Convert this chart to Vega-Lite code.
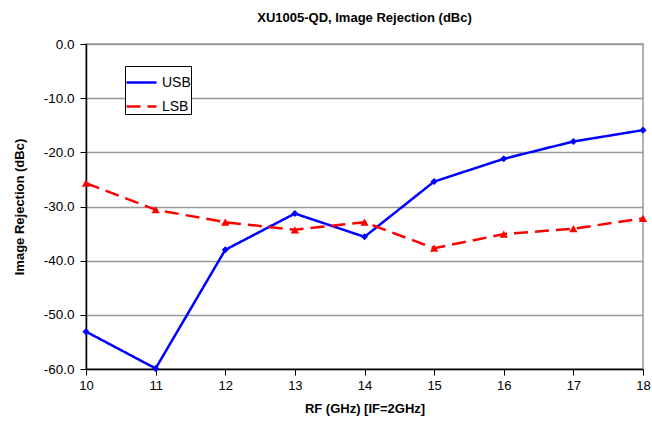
{
  "$schema": "https://vega.github.io/schema/vega-lite/v6.json",
  "autosize": {"type": "none"},
  "width": 557,
  "height": 325,
  "padding": {"left": 86, "top": 44, "right": 9, "bottom": 60},
  "background": "white",
  "title": {"text": "XU1005-QD, Image Rejection (dBc)", "font": "Liberation Sans", "fontSize": 13, "fontWeight": "bold", "color": "black", "offset": 12, "anchor": "middle"},
  "config": {
    "view": {"stroke": "#999999", "strokeWidth": 1.5},
    "font": "Liberation Sans"
  },
  "data": {"values": [
    {"rf": 10, "series": "USB", "ir": -53.1},
    {"rf": 11, "series": "USB", "ir": -59.9},
    {"rf": 12, "series": "USB", "ir": -38.0},
    {"rf": 13, "series": "USB", "ir": -31.3},
    {"rf": 14, "series": "USB", "ir": -35.6},
    {"rf": 15, "series": "USB", "ir": -25.4},
    {"rf": 16, "series": "USB", "ir": -21.2},
    {"rf": 17, "series": "USB", "ir": -18.0},
    {"rf": 18, "series": "USB", "ir": -15.9},
    {"rf": 10, "series": "LSB", "ir": -25.7},
    {"rf": 11, "series": "LSB", "ir": -30.6},
    {"rf": 12, "series": "LSB", "ir": -32.9},
    {"rf": 13, "series": "LSB", "ir": -34.3},
    {"rf": 14, "series": "LSB", "ir": -32.9},
    {"rf": 15, "series": "LSB", "ir": -37.7},
    {"rf": 16, "series": "LSB", "ir": -35.1},
    {"rf": 17, "series": "LSB", "ir": -34.1},
    {"rf": 18, "series": "LSB", "ir": -32.2}
  ]},
  "encoding": {
    "x": {"field": "rf", "type": "quantitative",
      "scale": {"domain": [10, 18], "nice": false, "zero": false},
      "axis": {"title": "RF (GHz) [IF=2GHz]", "values": [10, 11, 12, 13, 14, 15, 16, 17, 18], "format": "d",
        "labelFlush": false, "labelOverlap": false,
        "grid": false, "domainColor": "black", "domainWidth": 1.5, "tickColor": "black", "tickSize": 6, "tickWidth": 1,
        "labelFont": "Liberation Sans", "labelFontSize": 13, "labelColor": "black", "labelPadding": 4,
        "titleFont": "Liberation Sans", "titleFontSize": 13, "titleFontWeight": "bold", "titleColor": "black", "titlePadding": 10}},
    "y": {"field": "ir", "type": "quantitative",
      "scale": {"domain": [-60, 0], "nice": false, "zero": false},
      "axis": {"title": "Image Rejection (dBc)", "values": [0, -10, -20, -30, -40, -50, -60],
        "labelExpr": "datum.value == 0 ? '0.0' : '-' + format(-datum.value, '.1f')",
        "labelFlush": false, "labelOverlap": false,
        "grid": true, "gridColor": "#999999", "gridWidth": 1.5,
        "domainColor": "black", "domainWidth": 1.5, "tickColor": "black", "tickSize": 6, "tickWidth": 1,
        "labelFont": "Liberation Sans", "labelFontSize": 13.5, "labelColor": "black", "labelPadding": 6,
        "titleFont": "Liberation Sans", "titleFontSize": 13, "titleFontWeight": "bold", "titleColor": "black", "titlePadding": 17}}
  },
  "layer": [
    {
      "mark": {"type": "line", "strokeWidth": 2.5},
      "encoding": {
        "color": {"field": "series", "type": "nominal",
          "scale": {"domain": ["USB", "LSB"], "range": ["#0000ff", "#ff0000"]},
          "legend": {"title": null, "orient": "none", "legendX": 39, "legendY": 22,
            "symbolType": "stroke", "symbolSize": 900, "symbolStrokeWidth": 2.5,
            "labelFont": "Liberation Sans", "labelFontSize": 14, "labelColor": "black",
            "strokeColor": "black", "fillColor": "white", "padding": 0, "rowPadding": -8, "labelOffset": 4}},
        "strokeDash": {"field": "series", "type": "nominal",
          "scale": {"domain": ["USB", "LSB"], "range": [[1, 0], [14, 7]]},
          "legend": {"title": null, "orient": "none", "legendX": 39, "legendY": 22}}
      }
    },
    {
      "transform": [{"filter": "datum.series == 'USB'"}],
      "mark": {"type": "point", "filled": true, "opacity": 1, "shape": "diamond", "size": 50, "color": "#0000ff"}
    },
    {
      "transform": [{"filter": "datum.series == 'LSB'"}],
      "mark": {"type": "point", "filled": true, "opacity": 1, "shape": "triangle-up", "size": 70, "color": "#ff0000"}
    }
  ]
}
